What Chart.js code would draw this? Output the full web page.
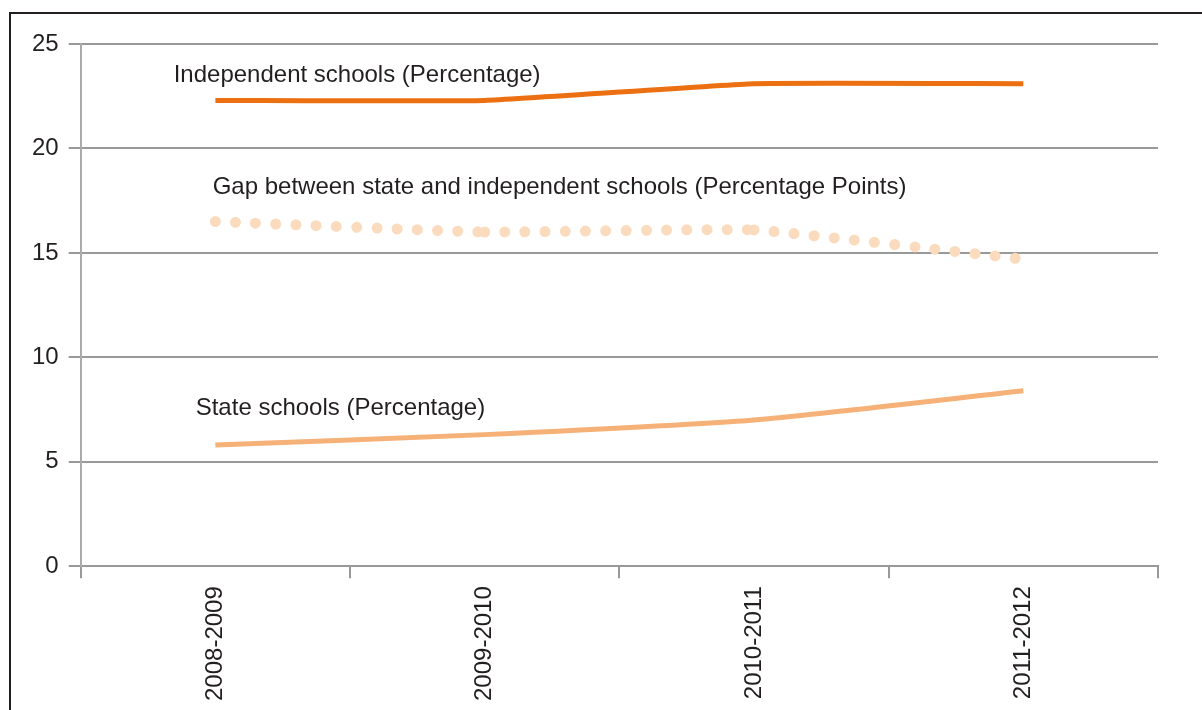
<!DOCTYPE html>
<html>
<head>
<meta charset="utf-8">
<script src="https://cdn.jsdelivr.net/npm/chart.js@4.4.1/dist/chart.umd.min.js"></script>
<style>
  body { margin: 0; background: #fff; }
  #wrap { position: relative; width: 1202px; height: 710px; }
</style>
</head>
<body>
<div id="wrap"><canvas id="myChart" width="1202" height="710"></canvas></div>
<script>
// school years on the x axis
const years = ['2008-2009', '2009-2010', '2010-2011', '2011-2012'];

// series
const independentSchools = [22.3, 22.3, 23.1, 23.1];
const stateSchools = [5.8, 6.3, 7.0, 8.4];
const gapPoints = [16.5, 16.0, 16.1, 14.7];

// y ticks
const yTicks = [0, 5, 10, 15, 20, 25];

const FONT = '"Liberation Sans", Arial, sans-serif';

// line labels written next to each series (offsets from chart area, in px)
const lineLabels = [
  { text: 'Independent schools (Percentage)', dx: 93, y: 75 },
  { text: 'Gap between state and independent schools (Percentage Points)', dx: 132, y: 187 },
  { text: 'State schools (Percentage)', dx: 115, y: 408 }
];

const labelPlugin = {
  id: 'lineLabels',
  beforeDraw(chart) {
    // outer frame
    const c = chart.ctx;
    c.save();
    c.strokeStyle = '#231f20';
    c.lineWidth = 2;
    c.strokeRect(10, 13, 1250, 800);
    c.restore();
  },
  afterDatasetsDraw(chart) {
    const c = chart.ctx;
    const area = chart.chartArea;
    c.save();
    c.fillStyle = '#231f20';
    c.font = '24px ' + FONT;
    c.textBaseline = 'middle';
    lineLabels.forEach(l => {
      c.fillText(l.text, area.left + l.dx, l.y);
    });
    c.restore();
  }
};

const ctx = document.getElementById('myChart');

new Chart(ctx, {
  type: 'line',
  data: {
    labels: years,
    datasets: [
      {
        label: 'Independent schools (Percentage)',
        data: independentSchools,
        borderColor: '#ec7012',
        borderWidth: 5,
        pointRadius: 0,
        tension: 0.12
      },
      {
        label: 'Gap between state and independent schools (Percentage Points)',
        data: gapPoints,
        borderColor: '#fbdbbd',
        borderWidth: 11,
        borderDash: [0, 20.2],
        borderCapStyle: 'round',
        pointRadius: 0,
        tension: 0.1,
        segment: {
          // a tiny different offset per segment restarts the dots at each year
          borderDashOffset: (s) => -s.p0DataIndex * 0.001
        }
      },
      {
        label: 'State schools (Percentage)',
        data: stateSchools,
        borderColor: '#f5b177',
        borderWidth: 5,
        pointRadius: 0,
        tension: 0.2
      }
    ]
  },
  options: {
    responsive: false,
    animation: false,
    layout: { padding: { left: 22, right: 44, top: 44, bottom: 1 } },
    plugins: {
      legend: { display: false },
      tooltip: { enabled: false }
    },
    scales: {
      x: {
        offset: true,
        grid: {
          offset: true,
          drawOnChartArea: false,
          drawTicks: true,
          tickLength: 12,
          color: '#999999',
          lineWidth: 2
        },
        border: { color: '#999999', width: 2 },
        ticks: {
          minRotation: 90,
          maxRotation: 90,
          color: '#231f20',
          padding: 8,
          font: { family: FONT, size: 24 }
        }
      },
      y: {
        min: 0,
        max: 25,
        afterBuildTicks: (axis) => {
          axis.ticks = yTicks.map(v => ({ value: v }));
        },
        grid: {
          color: '#999999',
          lineWidth: 2,
          tickLength: 12
        },
        border: { color: '#aaaaaa', width: 2 },
        ticks: {
          color: '#231f20',
          padding: 10,
          font: { family: FONT, size: 24 }
        }
      }
    }
  },
  plugins: [labelPlugin]
});
</script>
</body>
</html>
